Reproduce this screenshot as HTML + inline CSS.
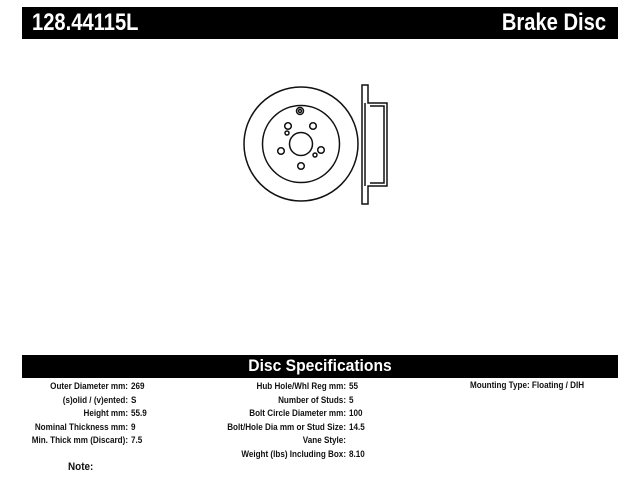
<!DOCTYPE html>
<html><head><style>
body{margin:0;width:640px;height:480px;background:#fff;position:relative;overflow:hidden;font-family:"Liberation Sans",sans-serif;font-weight:bold}
.bar{position:absolute;left:22px;width:596px;background:#000;color:#fff}
.t{position:absolute;font-size:9px;white-space:nowrap;color:#111}
.r{text-align:right}
</style></head><body>
<div class="bar" style="top:7px;height:32px">
<span style="position:absolute;left:10px;top:2px;font-size:24px;transform:scaleX(0.84);transform-origin:left">128.44115L</span>
<span style="position:absolute;right:12px;top:2px;font-size:24px;transform:scaleX(0.84);transform-origin:right">Brake Disc</span>
</div>
<svg style="position:absolute;left:0;top:0" width="640" height="480">
<g fill="none" stroke="#111" stroke-width="1.5">
<circle cx="301" cy="144" r="57"/>
<circle cx="301" cy="144" r="38.5"/>
<circle cx="301" cy="144" r="11.5"/>
<circle cx="300" cy="111" r="3.5"/><circle cx="300" cy="111" r="1.5"/>
<circle cx="288" cy="126" r="3.3"/>
<circle cx="313" cy="126" r="3.3"/>
<circle cx="281" cy="151" r="3.3"/>
<circle cx="321" cy="150" r="3.3"/>
<circle cx="301" cy="166" r="3.3"/>
<circle cx="287" cy="133" r="2"/>
<circle cx="315" cy="155" r="2"/>
<path d="M362 85 V204 H368 V186 H387 V103 H368 V85 Z"/>
<path d="M365 103 V186 M370 106 H384 V183 H370"/>
</g>
</svg>
<div class="bar" style="top:355px;height:23px">
<span style="position:absolute;left:0;width:596px;text-align:center;top:1px;font-size:17px;transform:scaleX(0.92)">Disc Specifications</span>
</div>
<div class="t r" style="right:512px;top:380px;line-height:13.5px;transform:scaleX(0.9);transform-origin:right">Outer Diameter mm:<br>(s)olid / (v)ented:<br>Height mm:<br>Nominal Thickness mm:<br>Min. Thick mm (Discard):</div>
<div class="t" style="left:131px;top:380px;line-height:13.5px;transform:scaleX(0.9);transform-origin:left">269<br>S<br>55.9<br>9<br>7.5</div>
<div class="t r" style="right:294px;top:380px;line-height:13.5px;transform:scaleX(0.9);transform-origin:right">Hub Hole/Whl Reg mm:<br>Number of Studs:<br>Bolt Circle Diameter mm:<br>Bolt/Hole Dia mm or Stud Size:<br>Vane Style:<br>Weight (lbs) Including Box:</div>
<div class="t" style="left:349px;top:380px;line-height:13.5px;transform:scaleX(0.9);transform-origin:left">55<br>5<br>100<br>14.5<br><br>8.10</div>
<div class="t" style="left:470px;top:380px;transform:scaleX(0.9);transform-origin:left">Mounting Type: Floating / DIH</div>
<div class="t" style="left:68px;top:461px;font-size:11px;transform:scaleX(0.9);transform-origin:left">Note:</div>
</body></html>
